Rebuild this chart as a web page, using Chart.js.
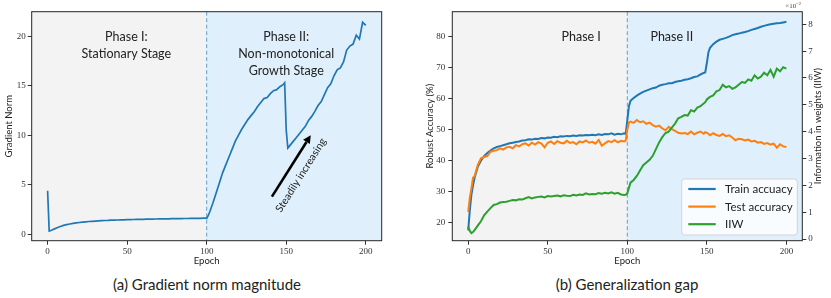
<!DOCTYPE html>
<html>
<head>
<meta charset="utf-8">
<script src="https://cdn.jsdelivr.net/npm/chart.js@4.4.1/dist/chart.umd.min.js"></script>
<style>
	body { margin: 0; background: #fff; width: 831px; height: 298px; position: relative; overflow: hidden; }
	.panel { position: absolute; top: 0; }
	#panelA { left: 0; }
	#panelB { left: 420px; }
	.caption { position: absolute; top: 277px; font: 15px Lato; line-height: 15px; color: #222; text-align: center; white-space: nowrap; }
</style>
</head>
<body>
<div class="panel" id="panelA"><canvas id="gradChart" width="415" height="270"></canvas></div>
<div class="panel" id="panelB"><canvas id="gapChart" width="411" height="270"></canvas></div>
<div class="caption" style="left:57px;width:300px">(a) Gradient norm magnitude</div>
<div class="caption" style="left:477px;width:300px">(b) Generalization gap</div>
<script>
// ***** DATA *****
// epochs where values were read, finer steps around the jumps
const epochs = [
	0, 1, 2, 3, 4,
	6, 8, 10, 12, 14, 16, 18, 20, 22, 24,
	26, 28, 30, 32, 34, 36, 38, 40, 42, 44,
	46, 48, 50, 52, 54, 56, 58, 60, 62, 64,
	66, 68, 70, 72, 74, 76, 78, 80, 82, 84,
	86, 88, 90, 92, 94, 96, 98,
	99, 100, 101,
	102, 104, 106, 108, 110, 112, 114, 116, 118, 120,
	122, 124, 126, 128, 130, 132, 134, 136, 138, 140,
	142, 144, 146, 148,
	149, 150, 151,
	152, 154, 156, 158, 160, 162, 164, 166, 168, 170,
	172, 174, 176, 178, 180, 182, 184, 186, 188, 190,
	192, 194, 196, 198, 200,
]

const gradNorm = [
	4.4, 0.32, 0.38, 0.45, 0.52,
	0.66, 0.78, 0.9, 0.98, 1.04, 1.1, 1.15, 1.19, 1.23, 1.26,
	1.29, 1.31, 1.33, 1.35, 1.37, 1.39, 1.4, 1.42, 1.43, 1.44,
	1.45, 1.46, 1.47, 1.48, 1.49, 1.5, 1.5, 1.51, 1.52, 1.53,
	1.53, 1.54, 1.55, 1.55, 1.56, 1.56, 1.57, 1.57, 1.58, 1.58,
	1.59, 1.59, 1.6, 1.6, 1.61, 1.61, 1.62,
	1.62, 1.6, 1.9,
	2.3, 3.2, 4.2, 5.2, 6.2, 7.0, 7.8, 8.6, 9.4, 10.0,
	10.6, 11.1, 11.6, 12.0, 12.4, 12.9, 13.3, 13.7, 13.8, 14.2,
	14.5, 14.6, 14.9, 15.1,
	15.3, 10.5, 8.7,
	8.9, 9.3, 9.7, 10.1, 10.5, 10.9, 11.5, 11.9, 12.4, 13.0,
	13.4, 14.1, 14.8, 15.2, 16.0, 16.6, 16.8, 17.4, 18.6, 19.0,
	19.2, 20.1, 19.7, 21.4, 21.1,
]

const trainAcc = [
	17.5, 24, 29, 32, 34.5,
	38, 40, 41.5, 42.5, 43.3, 44, 44.4, 44.7, 45.0, 45.3,
	45.6, 45.8, 46.0, 46.2, 46.5, 46.6, 46.9, 46.8, 47.1, 47.0,
	47.3, 47.2, 47.5, 47.4, 47.7, 47.6, 47.9, 47.8, 48.0, 47.9,
	48.1, 48.0, 48.2, 48.1, 48.3, 48.2, 48.4, 48.2, 48.5, 48.3,
	48.6, 48.5, 48.8, 48.4, 48.7, 48.5, 48.8,
	48.6, 53, 57.5,
	59.3, 60.2, 61.0, 61.6, 62.2, 62.6, 63.0, 63.4, 63.6, 64.2,
	64.5, 64.7, 65.0, 65.0, 65.4, 65.6, 65.8, 66.1, 66.3, 66.6,
	67.0, 67.2, 67.8, 68.3,
	68.5, 71.5, 75,
	76.4, 77.6, 78.4, 79.0, 79.3, 79.6, 80.0, 80.5, 80.8, 81.0,
	81.3, 81.5, 81.8, 82.2, 82.5, 82.8, 83.2, 83.5, 83.8, 84.0,
	84.2, 84.3, 84.4, 84.6, 84.8,
]

const testAcc = [
	23.5, 28, 31, 34.5, 35,
	38.6, 40.8, 41.2, 41.5, 42.9, 43.2, 43.4, 44.0, 43.6, 44.3,
	44.5, 44.0, 45.0, 44.6, 45.3, 45.6, 44.9, 45.8, 45.2, 46.0,
	45.5, 44.3, 45.8, 46.2, 45.4, 46.3, 45.8, 45.6, 46.4, 45.7,
	46.0, 45.3, 46.2, 45.9, 46.5, 45.8, 46.1, 45.5, 46.7, 44.8,
	45.6, 46.3, 46.0, 46.6, 45.9, 46.4, 46.2,
	46.5, 50, 52.3,
	52.6, 52.2, 53.1, 52.4, 52.7, 51.9, 52.3, 51.5, 51.0, 51.3,
	50.4, 49.8, 50.9, 50.2, 49.6, 49.0, 48.8, 48.9, 48.6, 49.4,
	48.5, 49.0, 49.4, 48.7,
	49.2, 49.0, 48.7,
	48.2, 48.9, 48.3, 48.0, 48.6, 47.9, 48.2, 47.5, 46.6, 47.1,
	46.9, 46.5, 46.8, 46.2, 46.4, 45.8, 46.0, 45.4, 45.7, 45.2,
	45.5, 44.2, 45.3, 44.6, 44.4,
]

// information in weights, in units of 1e-2
const iiw = [
	0.46, 0.3, 0.22, 0.26, 0.33,
	0.5, 0.66, 0.88, 1.02, 1.15, 1.27, 1.3, 1.36, 1.38, 1.39,
	1.42, 1.45, 1.44, 1.48, 1.47, 1.52, 1.56, 1.51, 1.55, 1.57,
	1.58, 1.55, 1.6, 1.58, 1.6, 1.62, 1.59, 1.63, 1.61, 1.6,
	1.65, 1.62, 1.66, 1.64, 1.7, 1.66, 1.68, 1.67, 1.71, 1.69,
	1.72, 1.7, 1.74, 1.69, 1.72, 1.66, 1.64,
	1.65, 1.7, 1.9,
	2.1, 2.2, 2.35, 2.55, 2.75, 2.85, 2.95, 3.1, 3.35, 3.6,
	3.8, 3.95, 4.0, 4.15, 4.3, 4.5, 4.55, 4.62, 4.6, 4.8,
	4.75, 4.9, 4.95, 5.05,
	5.1, 5.2, 5.25,
	5.3, 5.35, 5.5, 5.55, 5.75, 5.65, 5.7, 5.6, 5.65, 5.75,
	5.85, 5.82, 5.95, 5.9, 6.1, 5.98, 6.05, 6.2, 6.1, 6.3,
	6.05, 6.35, 6.25, 6.4, 6.35,
]

const epochTicks = [0, 50, 100, 150, 200]
const gradTicks = [0, 5, 10, 15, 20]
const accTicks = [20, 30, 40, 50, 60, 70, 80]
const iiwTicks = [0, 1, 2, 3, 4, 5, 6, 7, 8]
const seriesLabels = ['Train accuacy', 'Test accuracy', 'IIW']
const phaseSplit = 100

// colors
const blue = '#1f77b4', orange = '#ff7f0e', green = '#2ca02c'
const ink = '#222'
const sans = 'Lato'
const serif = 'Liberation Serif'

function points(values) {
	return epochs.map((e, i) => ({ x: e, y: values[i] }))
}

function setTicks(list) {
	return (scale) => { scale.ticks = list.map((v) => ({ value: v })) }
}

function fixWidth(w) {
	return (scale) => { scale.width = w }
}

function fixHeight(h) {
	return (scale) => { scale.height = h }
}

// shaded phases + dashed separator + frame
const phasePlugin = {
	id: 'phases',
	beforeDatasetsDraw(chart) {
		const { ctx, chartArea: a, scales: { x } } = chart
		const mid = x.getPixelForValue(phaseSplit)
		ctx.save()
		ctx.fillStyle = '#f3f3f3'
		ctx.fillRect(a.left, a.top, mid - a.left, a.bottom - a.top)
		ctx.fillStyle = '#dff0fc'
		ctx.fillRect(mid, a.top, a.right - mid, a.bottom - a.top)
		ctx.strokeStyle = '#5f9fd3'
		ctx.lineWidth = 1
		ctx.setLineDash([4, 2.5])
		ctx.beginPath()
		ctx.moveTo(mid, a.top)
		ctx.lineTo(mid, a.bottom)
		ctx.stroke()
		ctx.restore()
	},
	afterDatasetsDraw(chart) {
		const { ctx, chartArea: a } = chart
		ctx.save()
		ctx.strokeStyle = '#262626'
		ctx.lineWidth = 1
		ctx.strokeRect(a.left, a.top, a.right - a.left, a.bottom - a.top)
		ctx.restore()
	},
}

function linearAxis(min, max, ticks, pad) {
	return {
		type: 'linear',
		min: min,
		max: max,
		afterBuildTicks: setTicks(ticks),
		border: { display: false },
		grid: { drawOnChartArea: false, drawTicks: true, tickLength: 4, color: '#333' },
		ticks: { font: { family: serif, size: 9 }, color: '#333', padding: pad },
	}
}

function axisTitle(text, padding) {
	return { display: true, text: text, color: ink, font: { family: sans, size: 9.5 }, padding: padding }
}

// ***** CHART (a) *****
const gradNotes = {
	id: 'gradNotes',
	afterDatasetsDraw(chart) {
		const { ctx, scales: { x, y } } = chart
		ctx.save()
		ctx.fillStyle = ink
		ctx.font = '12.5px ' + sans
		ctx.textAlign = 'center'
		ctx.textBaseline = 'middle'
		const notes = [
			{ at: 49.5, lines: ['Phase I:', 'Stationary Stage'] },
			{ at: 150, lines: ['Phase II:', 'Non-monotonical', 'Growth Stage'] },
		]
		notes.forEach((n) => {
			n.lines.forEach((t, i) => {
				ctx.fillText(t, x.getPixelForValue(n.at), y.getPixelForValue(19.9) + i * 16.7)
			})
		})

		// arrow
		const x0 = x.getPixelForValue(141), y0 = y.getPixelForValue(3.8)
		const x1 = x.getPixelForValue(165.4), y1 = y.getPixelForValue(10.0)
		const ang = Math.atan2(y1 - y0, x1 - x0)
		const head = 8, half = 4
		const bx = x1 - head * Math.cos(ang), by = y1 - head * Math.sin(ang)
		ctx.strokeStyle = '#000'
		ctx.fillStyle = '#000'
		ctx.lineWidth = 2.6
		ctx.beginPath()
		ctx.moveTo(x0, y0)
		ctx.lineTo(bx, by)
		ctx.stroke()
		ctx.beginPath()
		ctx.moveTo(x1, y1)
		ctx.lineTo(bx + half * Math.sin(ang), by - half * Math.cos(ang))
		ctx.lineTo(bx - half * Math.sin(ang), by + half * Math.cos(ang))
		ctx.closePath()
		ctx.fill()

		ctx.translate(x.getPixelForValue(159.2), y.getPixelForValue(5.97))
		ctx.rotate(ang)
		ctx.fillStyle = ink
		ctx.font = '10.5px ' + sans
		ctx.fillText('Steadily increasing', 0, 0)
		ctx.restore()
	},
}

const gradChart = new Chart(document.getElementById('gradChart'), {
	type: 'line',
	data: {
		datasets: [
			{ data: points(gradNorm), borderColor: blue, borderWidth: 1.7, pointRadius: 0, tension: 0 },
		],
	},
	options: {
		responsive: false,
		animation: false,
		devicePixelRatio: 1,
		layout: { padding: { top: 11.7, right: 33.3, left: 0, bottom: 0 } },
		plugins: { legend: { display: false }, tooltip: { enabled: false } },
		scales: {
			x: {
				...linearAxis(-10, 210, epochTicks, 2),
				afterFit: fixHeight(29.3),
				title: axisTitle('Epoch', { top: 0, bottom: 3 }),
			},
			y: {
				...linearAxis(-0.65, 22.47, gradTicks, 2),
				afterFit: fixWidth(31.7),
				title: axisTitle('Gradient Norm', { top: 3.6, bottom: 0 }),
			},
		},
	},
	plugins: [phasePlugin, gradNotes],
})

// ***** CHART (b) *****
const gapNotes = {
	id: 'gapNotes',
	afterDatasetsDraw(chart) {
		const { ctx, chartArea: a, scales: { x, y } } = chart
		ctx.save()
		ctx.fillStyle = ink
		ctx.font = '12.5px ' + sans
		ctx.textAlign = 'center'
		ctx.textBaseline = 'middle'
		ctx.fillText('Phase I', x.getPixelForValue(71), y.getPixelForValue(80))
		ctx.fillText('Phase II', x.getPixelForValue(128), y.getPixelForValue(80))

		// right axis title, reading upwards like matplotlib's twin axis
		ctx.save()
		ctx.translate(a.right + 16, (a.top + a.bottom) / 2)
		ctx.rotate(-Math.PI / 2)
		ctx.font = '9.5px ' + sans
		ctx.fillText('Information in weights (IIW)', 0, 0)
		ctx.restore()

		// offset text for the right axis
		ctx.textAlign = 'left'
		ctx.textBaseline = 'alphabetic'
		ctx.fillStyle = '#444'
		ctx.font = '7px ' + serif
		ctx.fillText('×10', a.right - 17, 8)
		ctx.font = '5px ' + serif
		ctx.fillText('−2', a.right - 6.5, 5)

		// legend box
		const w = 115.6, h = 56
		const lx = a.right - 5 - w, ly = a.bottom - 5.7 - h
		ctx.beginPath()
		ctx.roundRect(lx, ly, w, h, 3)
		ctx.fillStyle = 'rgba(255,255,255,0.8)'
		ctx.fill()
		ctx.strokeStyle = '#d4d4d4'
		ctx.lineWidth = 1
		ctx.stroke()
		ctx.font = '11.5px ' + sans
		ctx.textBaseline = 'middle'
		chart.data.datasets.forEach((ds, i) => {
			const ry = ly + 10 + i * 17.6
			ctx.strokeStyle = ds.borderColor
			ctx.lineWidth = 2.2
			ctx.beginPath()
			ctx.moveTo(lx + 6.6, ry)
			ctx.lineTo(lx + 34, ry)
			ctx.stroke()
			ctx.fillStyle = ink
			ctx.fillText(ds.label, lx + 43.3, ry + 0.5)
		})
		ctx.restore()
	},
}

const gapChart = new Chart(document.getElementById('gapChart'), {
	type: 'line',
	data: {
		datasets: [
			{ label: seriesLabels[0], data: points(trainAcc), yAxisID: 'y', order: 3, borderColor: blue, borderWidth: 2, pointRadius: 0 },
			{ label: seriesLabels[1], data: points(testAcc), yAxisID: 'y', order: 2, borderColor: orange, borderWidth: 2, pointRadius: 0 },
			{ label: seriesLabels[2], data: points(iiw), yAxisID: 'y1', order: 1, borderColor: green, borderWidth: 2, pointRadius: 0 },
		],
	},
	options: {
		responsive: false,
		animation: false,
		devicePixelRatio: 1,
		layout: { padding: { top: 11.7, right: 0, left: 0, bottom: 0 } },
		plugins: { legend: { display: false }, tooltip: { enabled: false } },
		scales: {
			x: {
				...linearAxis(-10, 210, epochTicks, 2),
				afterFit: fixHeight(29.3),
				title: axisTitle('Epoch', { top: 0, bottom: 3 }),
			},
			y: {
				...linearAxis(14.19, 88.06, accTicks, 3),
				position: 'left',
				afterFit: fixWidth(32.3),
				title: axisTitle('Robust Accuracy (%)', { top: 4.6, bottom: 0 }),
			},
			y1: {
				...linearAxis(-0.063, 8.47, iiwTicks, 2),
				position: 'right',
				afterFit: fixWidth(28.7),
			},
		},
	},
	plugins: [phasePlugin, gapNotes],
})
</script>
</body>
</html>
